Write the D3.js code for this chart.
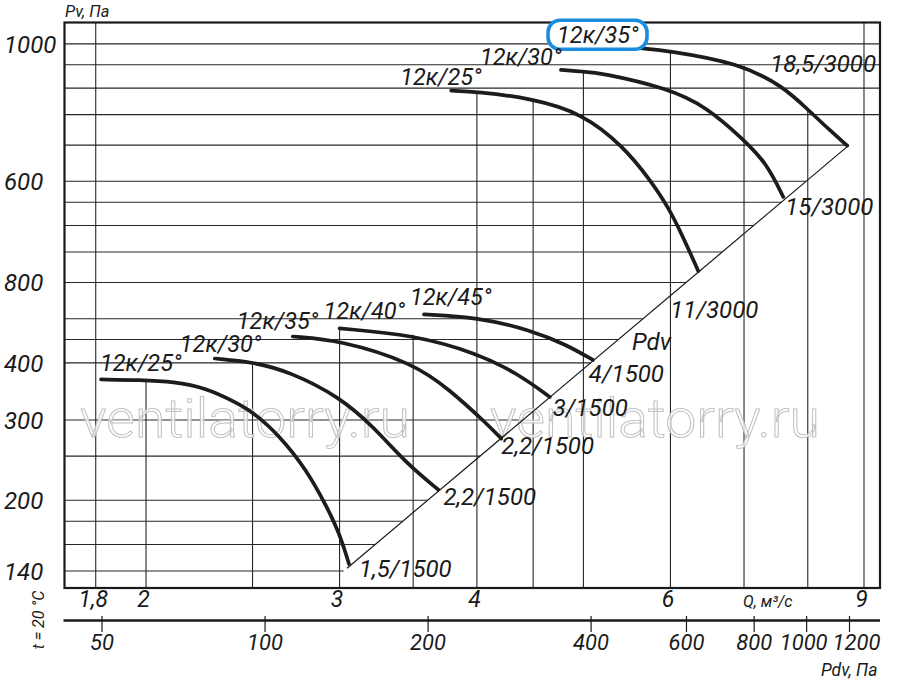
<!DOCTYPE html>
<html>
<head>
<meta charset="utf-8">
<script src="https://cdn.jsdelivr.net/npm/d3@7"></script>
<style>
  body { margin: 0; background: #fff; }
  text { font-family: Roboto, "DejaVu Sans", sans-serif; font-style: italic; fill: #1a1a1a; }
</style>
</head>
<body>
<svg id="chart" width="900" height="682"></svg>
<script>
// DATA - AXES
var qGrid = [1.8, 2, 2.5, 3, 3.5, 4, 4.5, 5, 6, 7, 8, 9];
var qTicks = [1.8, 2, 3, 4, 6, 9];
var qTickLabels = ["1,8", "2", "3", "4", "6", "9"];

var pvGrid = [140, 160, 180, 200, 250, 300, 400, 450, 500, 600, 700, 800, 900, 1000, 1200, 1400, 1600, 1800, 2000];
var pvTicks = [140, 200, 300, 400, 600, 1000, 2000];
var pvTickLabels = ["140", "200", "300", "400", "800", "600", "1000"];

var pdvTicks = [50, 100, 200, 400, 600, 800, 1000, 1200];

// Pv = Pdv line, from / to (Pa)
var pdvLine = [142, 1197];

// DATA - FAN CURVES [Q m3/s, Pv Pa]
var fan25_1500 = [[1.82, 368], [1.975, 367], [2.12, 364], [2.27, 352], [2.40, 330], [2.50, 313], [2.65, 276], [2.80, 233], [2.92, 194], [3.00, 169], [3.06, 145]];
var fan30_1500 = [[2.31, 409], [2.50, 402], [2.70, 383], [3.00, 337], [3.22, 290], [3.45, 241], [3.69, 211]];
var fan35_1500 = [[2.72, 457], [3.00, 449], [3.50, 400], [3.78, 349], [4.08, 295], [4.21, 273]];
var fan40_1500 = [[3.00, 476], [3.50, 461], [4.00, 420], [4.35, 380], [4.66, 337]];
var fan45_1500 = [[3.58, 511], [4.00, 504], [4.48, 472], [4.83, 438], [5.10, 406]];
var fan25_3000 = [[3.79, 1580], [4.00, 1572], [4.48, 1520], [4.99, 1410], [5.44, 1191], [5.75, 1007], [5.97, 880], [6.16, 756], [6.36, 636]];
var fan30_3000 = [[4.77, 1754], [4.99, 1739], [5.18, 1730], [5.97, 1599], [6.47, 1457], [7.00, 1232], [7.34, 1095], [7.60, 924]];
var fan35_3000 = [[5.63, 1957], [5.97, 1933], [6.94, 1814], [7.60, 1612], [7.95, 1457], [8.43, 1276], [8.69, 1197]];

var bladeLabels = ["12к/25°", "12к/30°", "12к/35°", "12к/40°", "12к/45°", "12к/25°", "12к/30°", "12к/35°"];
var motorLabels = ["1,5/1500", "2,2/1500", "2,2/1500", "3/1500", "4/1500", "11/3000", "15/3000", "18,5/3000"];

var fans = [fan25_1500, fan30_1500, fan35_1500, fan40_1500, fan45_1500, fan25_3000, fan30_3000, fan35_3000]
    .map((pts, i) => ({ pts: pts, blade: bladeLabels[i], motor: motorLabels[i] }));

// label nudges (px) from curve start / end
var bladeOffset = [[-1, -8], [-35, -7], [-56, -8], [-16, -9], [-14, -9], [-51, -6], [-81, -5], [-83, -5]];
var motorOffset = [[10, 13], [5, 15], [0, 15], [3, 19], [-4, 22], [-28, 47], [2, 18], [-77, -74]];
var selected = 7; // highlighted model

// LAYOUT
var plotL = 64.5, plotR = 880, plotT = 22.5, plotB = 588;

const svg = d3.select("#chart");

// SCALES
var x = d3.scaleLog().domain([1.686, 9.307]).range([plotL, plotR]);
var y = d3.scaleLog().domain([128.5, 2228]).range([plotB, plotT]);
var xPdv = d3.scaleLog().domain([42.72, 1369]).range([plotL, plotR]);

// highest curve at a given Q (log-log interpolation)
function envelope(q) {
    var best = null;
    fans.forEach((f) => {
        var p = f.pts;
        if (q < p[0][0] - 0.005 || q > p[p.length - 1][0]) return;
        for (var i = 0; i < p.length - 1; i++) {
            if (q <= p[i + 1][0]) {
                var t = (Math.log(q) - Math.log(p[i][0])) / (Math.log(p[i + 1][0]) - Math.log(p[i][0]));
                t = Math.max(0, t);
                var v = Math.exp(Math.log(p[i][1]) + t * (Math.log(p[i + 1][1]) - Math.log(p[i][1])));
                if (best === null || v > best) best = v;
                break;
            }
        }
    });
    return best;
}

// GRID
const grid = svg.append("g")
    .attr("stroke", "#262626")
    .attr("stroke-width", 1.1);

grid.selectAll(".hgrid")
    .data(pvGrid)
    .join("line")
    .attr("class", "hgrid")
    .attr("x1", plotL)
    .attr("x2", (d) => d <= pdvLine[1] + 5 ? xPdv(d) : plotR)
    .attr("y1", (d) => y(d))
    .attr("y2", (d) => y(d));

grid.selectAll(".vgrid")
    .data(qGrid)
    .join("line")
    .attr("class", "vgrid")
    .attr("x1", (d) => x(d))
    .attr("x2", (d) => x(d))
    .attr("y1", (d) => { var e = envelope(d); return e === null ? plotT : y(e); })
    .attr("y2", plotB);

// WATERMARK
svg.append("g")
    .selectAll("text")
    .data([80, 490])
    .join("text")
    .attr("x", (d) => d)
    .attr("y", 437)
    .attr("textLength", 330)
    .attr("lengthAdjust", "spacingAndGlyphs")
    .style("font-style", "normal")
    .style("font-weight", 300)
    .style("font-size", "53px")
    .style("fill", "rgba(255,255,255,0.75)")
    .attr("stroke", "#c2c2c2")
    .attr("stroke-width", 1)
    .text("ventilatorry.ru");

// Pdv LINE
svg.append("line")
    .attr("x1", xPdv(pdvLine[0])).attr("y1", y(pdvLine[0]))
    .attr("x2", xPdv(pdvLine[1])).attr("y2", y(pdvLine[1]))
    .attr("stroke", "#1a1a1a")
    .attr("stroke-width", 1.2);

// CURVES
var line = d3.line()
    .x((d) => x(d[0]))
    .y((d) => y(d[1]))
    .curve(d3.curveBasis);

svg.append("g")
    .selectAll("path")
    .data(fans)
    .join("path")
    .attr("d", (d) => line(d.pts))
    .attr("fill", "none")
    .attr("stroke", "#1c1c1c")
    .attr("stroke-width", 3.7)
    .attr("stroke-linecap", "round");

// FRAME
svg.append("rect")
    .attr("x", plotL).attr("y", plotT)
    .attr("width", plotR - plotL).attr("height", plotB - plotT)
    .attr("fill", "none")
    .attr("stroke", "#1a1a1a")
    .attr("stroke-width", 2.2);

// Q AXIS
const qAxis = svg.append("g")
    .attr("transform", "translate(0," + plotB + ")")
    .call(d3.axisBottom(x).tickValues(qTicks).tickFormat((d, i) => qTickLabels[i]).tickSize(0));
qAxis.select(".domain").remove();
qAxis.selectAll("text")
    .attr("y", 19).attr("dy", 0).attr("dx", -3)
    .attr("fill", null)
    .style("font-size", "23px");
qAxis.attr("font-family", null).attr("font-size", null);

// Pdv AXIS
const pdvAxis = svg.append("g")
    .attr("transform", "translate(0,616)")
    .call(d3.axisBottom(xPdv).tickValues(pdvTicks).tickFormat((d) => d).tickSize(16));
pdvAxis.select(".domain").remove();
pdvAxis.selectAll(".tick line").attr("stroke", "#1a1a1a").attr("stroke-width", 1.2);
pdvAxis.selectAll("text")
    .attr("y", 34).attr("dy", 0)
    .attr("dx", (d) => d === 1000 ? -3 : d === 1200 ? 7 : 0)
    .attr("fill", null)
    .style("font-size", "22px");
pdvAxis.attr("font-family", null).attr("font-size", null);
svg.append("line")
    .attr("x1", plotL - 1).attr("x2", plotR)
    .attr("y1", 620.5).attr("y2", 620.5)
    .attr("stroke", "#1a1a1a")
    .attr("stroke-width", 2.4);

// Pv AXIS
svg.append("g")
    .selectAll("text")
    .data(pvTicks)
    .join("text")
    .attr("x", 4)
    .attr("y", (d) => y(d))
    .attr("dy", "0.36em")
    .style("font-size", "24px")
    .text((d, i) => pvTickLabels[i]);

// AXIS TITLES
svg.append("text").attr("x", 65).attr("y", 17).style("font-size", "16.5px").text("Pv, Па");
svg.append("text").attr("x", 743).attr("y", 607).style("font-size", "16px").text("Q, м³/с");
svg.append("text").attr("x", 821).attr("y", 676).style("font-size", "17.5px").text("Pdv, Па");
svg.append("text")
    .attr("transform", "translate(44,620) rotate(-90)")
    .attr("text-anchor", "middle")
    .style("font-size", "16px")
    .text("t = 20 °C");
svg.append("text")
    .attr("x", xPdv(420) + 30).attr("y", y(420) - 3)
    .style("font-size", "24px")
    .text("Pdv");

// CURVE LABELS
const blade = svg.append("g")
    .selectAll("text")
    .data(fans)
    .join("text")
    .attr("x", (d, i) => x(d.pts[0][0]) + bladeOffset[i][0])
    .attr("y", (d, i) => y(d.pts[0][1]) + bladeOffset[i][1])
    .style("font-size", "23.5px")
    .text((d) => d.blade);

svg.append("g")
    .selectAll("text")
    .data(fans)
    .join("text")
    .attr("x", (d, i) => x(d.pts[d.pts.length - 1][0]) + motorOffset[i][0])
    .attr("y", (d, i) => y(d.pts[d.pts.length - 1][1]) + motorOffset[i][1])
    .style("font-size", "24px")
    .text((d) => d.motor);

// highlight box round the selected model
var selNode = blade.filter((d, i) => i === selected);
var bb = selNode.node().getBBox();
svg.insert("rect", () => selNode.node().parentNode)
    .attr("x", bb.x - 9).attr("y", bb.y - 1)
    .attr("width", bb.width + 17).attr("height", bb.height + 1)
    .attr("rx", 12)
    .attr("fill", "#fff")
    .attr("stroke", "#1a8ddf")
    .attr("stroke-width", 3.6);
</script>
</body>
</html>
